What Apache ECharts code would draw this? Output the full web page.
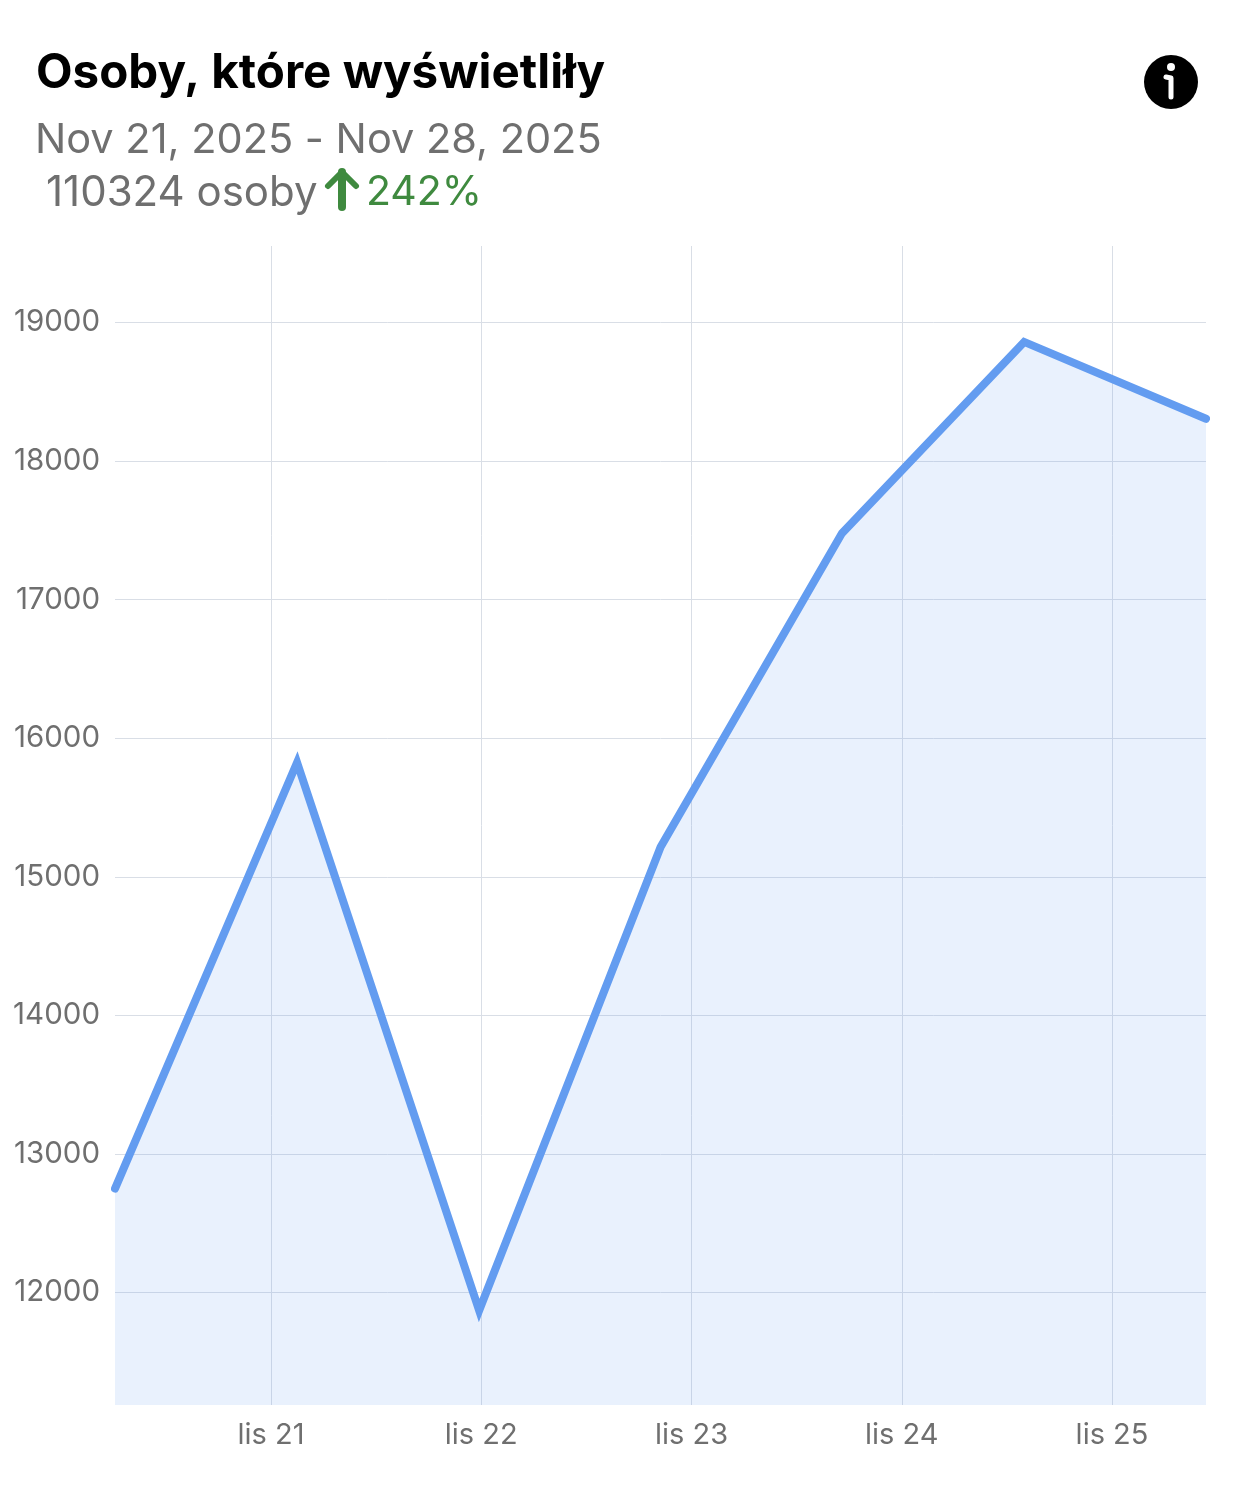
<!DOCTYPE html>
<html>
<head>
<meta charset="utf-8">
<style>html,body{margin:0;padding:0;background:#fff}#c{width:1234px;height:1500px}</style>
<script src="https://cdn.jsdelivr.net/npm/echarts@6/dist/echarts.min.js"></script>
</head>
<body>
<div id="c"></div>
<script>
const titleText = 'Osoby, które wyświetliły';
const dateRange = 'Nov 21, 2025 - Nov 28, 2025';
const totalText = '110324 osoby';
const changeText = '242%';
const dayTicks = [0, 1, 2, 3, 4];
const dayLabels = ['lis 21', 'lis 22', 'lis 23', 'lis 24', 'lis 25'];
const valueTicks = [12000, 13000, 14000, 15000, 16000, 17000, 18000, 19000];
const pointDays = [-0.742, 0.124, 0.99, 1.853, 2.716, 3.582, 4.447];
const pointValues = [12750, 15825, 11870, 15215, 17480, 18860, 18305];

const font = 'Inter, Roboto, sans-serif';
const chart = echarts.init(document.getElementById('c'), null, {renderer: 'canvas'});
chart.setOption({
  animation: false,
  backgroundColor: '#ffffff',
  grid: {left: 115, right: 28, top: 246, bottom: 95},
  xAxis: {
    type: 'value',
    min: -0.742,
    max: 4.447,
    axisLine: {show: false},
    axisTick: {show: true, length: 0, customValues: dayTicks},
    splitLine: {show: true, lineStyle: {color: '#d9dee6', width: 1}},
    axisLabel: {
      customValues: dayTicks,
      color: '#6f6f6f', fontSize: 29, fontFamily: font, margin: 16,
      formatter: v => dayLabels[dayTicks.indexOf(v)] || ''
    }
  },
  yAxis: {
    type: 'value',
    min: 11188,
    max: 19552,
    axisLine: {show: false},
    axisTick: {show: true, length: 0, customValues: valueTicks},
    splitLine: {show: true, lineStyle: {color: '#d9dee6', width: 1}},
    axisLabel: {
      customValues: valueTicks,
      color: '#6f6f6f', fontSize: 29.5, fontFamily: font, margin: 15,
      formatter: v => String(v)
    }
  },
  series: [{
    type: 'line',
    data: pointDays.map((d, i) => [d, pointValues[i]]),
    symbol: 'none',
    clip: false,
    lineStyle: {color: '#639cf0', width: 8, cap: 'round', join: 'miter'},
    areaStyle: {color: '#639cf0', opacity: 0.14}
  }],
  graphic: [
    {type: 'text', left: 36, top: 50, style: {text: titleText, fill: '#000', font: '700 47.5px ' + font}},
    {type: 'text', left: 35, top: 120, style: {text: dateRange, fill: '#6f6f6f', font: '400 41.5px ' + font}},
    {type: 'text', left: 46, top: 172, style: {text: totalText, fill: '#6f6f6f', font: '400 42px ' + font}},
    {type: 'text', left: 366, top: 172, style: {text: changeText, fill: '#3f8a3f', font: '400 41px ' + font}},
    {type: 'polyline', shape: {points: [[342, 207], [342, 172]]}, style: {stroke: '#3f8a3f', lineWidth: 8, lineCap: 'round', fill: null}},
    {type: 'polyline', shape: {points: [[328, 186], [342, 172], [356, 186]]}, style: {stroke: '#3f8a3f', lineWidth: 6, lineCap: 'round', lineJoin: 'round', fill: null}},
    {type: 'circle', shape: {cx: 1171, cy: 82, r: 27}, style: {fill: '#000'}},
    {type: 'circle', shape: {cx: 1171, cy: 67, r: 4}, style: {fill: '#fff'}},
    {type: 'polyline', shape: {points: [[1166, 77], [1171, 78], [1171, 97]]}, style: {stroke: '#fff', lineWidth: 5, lineCap: 'round', lineJoin: 'round', fill: null}}
  ]
});
</script>
</body>
</html>
